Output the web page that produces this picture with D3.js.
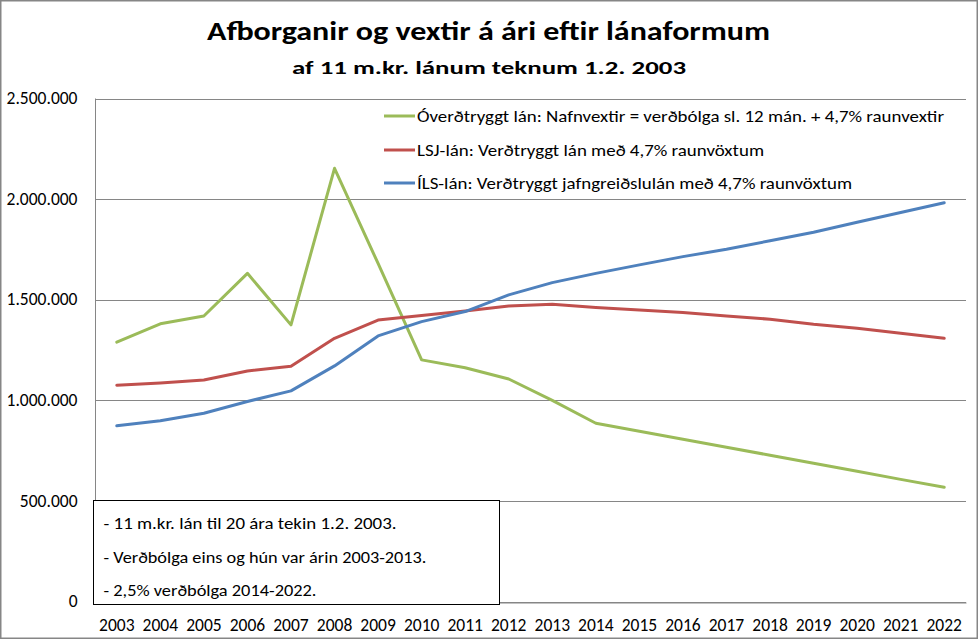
<!DOCTYPE html>
<html>
<head>
<meta charset="utf-8">
<script src="https://cdn.jsdelivr.net/npm/d3@7"></script>
<style>
  html, body { margin: 0; padding: 0; background: #fff; }
  svg { display: block; }
  text { font-family: Carlito, Lato, "Open Sans", sans-serif; fill: #000; }
</style>
</head>
<body>
<svg id="chart" width="978" height="639"></svg>
<script>
const years = ["2003","2004","2005","2006","2007","2008","2009","2010","2011","2012","2013","2014","2015","2016","2017","2018","2019","2020","2021","2022"];
const overdtryggt = [1289000,1380000,1419000,1631000,1375000,2153000,1680000,1201000,1162000,1106000,1000000,886000,846000,806000,767000,727000,687000,647000,607000,568000];
const lsj = [1075000,1086000,1101000,1146000,1169000,1308000,1399000,1421000,1444000,1469000,1477000,1461000,1449000,1436000,1419000,1403000,1378000,1358000,1333000,1308000];
const ils = [873000,898000,936000,994000,1047000,1171000,1320000,1391000,1441000,1524000,1585000,1631000,1673000,1714000,1751000,1793000,1835000,1885000,1933000,1982000];
const yTicks = [0,500000,1000000,1500000,2000000,2500000];
const seriesNames = [
  "Óverðtryggt lán: Nafnvextir = verðbólga sl. 12 mán. + 4,7% raunvextir",
  "LSJ-lán: Verðtryggt lán með 4,7% raunvöxtum",
  "ÍLS-lán: Verðtryggt jafngreiðslulán með 4,7% raunvöxtum"
];
const seriesColors = ["#9BBB59","#C0504D","#4F81BD"];
const titleText = "Afborganir og vextir á ári eftir lánaformum";
const subtitleText = "af 11 m.kr. lánum teknum 1.2. 2003";
const notes = [
  "- 11 m.kr. lán til 20 ára tekin 1.2. 2003.",
  "- Verðbólga eins og hún var árin 2003-2013.",
  "- 2,5% verðbólga 2014-2022."
];

const svg = d3.select("#chart");
const W = 978, H = 639;
const plot = {left: 95, right: 966, top: 98.5, bottom: 601.5};

// outer border
svg.append("rect").attr("x", 0.75).attr("y", 0.75).attr("width", W - 1.5).attr("height", H - 1.5)
  .attr("fill", "#fff").attr("stroke", "#868686").attr("stroke-width", 1.5);

const x = d3.scaleBand().domain(years).range([plot.left, plot.right]);
const y = d3.scaleLinear().domain([0, 2500000]).range([plot.bottom, plot.top]);

const loc = d3.formatLocale({decimal: ",", thousands: ".", grouping: [3], currency: ["", ""]});
const fmt = loc.format(",d");

// gridlines
svg.append("g").selectAll("line").data(yTicks).join("line")
  .attr("x1", plot.left).attr("x2", plot.right)
  .attr("y1", d => Math.round(y(d)) + 0.5).attr("y2", d => Math.round(y(d)) + 0.5)
  .attr("stroke", "#868686").attr("stroke-width", 1);

// y axis
const yAxis = svg.append("g").attr("transform", `translate(${plot.left + 0.5},0)`)
  .call(d3.axisLeft(y).tickValues(yTicks).tickFormat(fmt).tickSize(0).tickPadding(18));
yAxis.select(".domain").attr("stroke", "#868686").attr("d", `M0,${plot.top}V${plot.bottom + 0.5}`);
yAxis.selectAll("text").attr("font-size", 17.5).attr("font-family", "Carlito, Lato, sans-serif").attr("dy", "0.3em");

// x axis
const xAxis = svg.append("g").attr("transform", `translate(0,${Math.round(plot.bottom) + 0.5})`)
  .call(d3.axisBottom(x).tickSize(0).tickPadding(16));
xAxis.select(".domain").attr("stroke", "#868686");
xAxis.selectAll("text").attr("font-size", 17.5).attr("font-family", "Carlito, Lato, sans-serif");

// lines
const line = d3.line().x((d, i) => x(years[i]) + x.bandwidth() / 2).y(d => y(d));
const allSeries = [overdtryggt, lsj, ils];
svg.append("g").selectAll("path").data(allSeries).join("path")
  .attr("d", d => line(d))
  .attr("fill", "none")
  .attr("stroke", (d, i) => seriesColors[i])
  .attr("stroke-width", 3)
  .attr("stroke-linejoin", "round")
  .attr("stroke-linecap", "round");

// legend
const legendY = [116, 150, 183];
const legendW = [527, 347, 435];
const lg = svg.append("g");
seriesNames.forEach((name, i) => {
  lg.append("line").attr("x1", 384).attr("x2", 415).attr("y1", legendY[i]).attr("y2", legendY[i])
    .attr("stroke", seriesColors[i]).attr("stroke-width", 3);
  lg.append("text").attr("x", 417).attr("y", legendY[i]).attr("dy", "0.35em")
    .attr("font-size", 17).attr("textLength", legendW[i]).attr("lengthAdjust", "spacingAndGlyphs")
    .text(name);
});

// notes box
svg.append("rect").attr("x", 93.5).attr("y", 500.5).attr("width", 406).attr("height", 104)
  .attr("fill", "#fff").attr("stroke", "#000").attr("stroke-width", 1);
const noteY = [529, 562.5, 595.5];
const noteW = [293, 323, 213];
notes.forEach((t, i) => {
  svg.append("text").attr("x", 103.5).attr("y", noteY[i]).attr("font-size", 17)
    .attr("textLength", noteW[i]).attr("lengthAdjust", "spacingAndGlyphs").text(t);
});

// titles
svg.append("text").attr("x", 207).attr("y", 40).attr("font-size", 26).attr("font-weight", "bold")
  .attr("textLength", 563).attr("lengthAdjust", "spacingAndGlyphs").text(titleText);
svg.append("text").attr("x", 292).attr("y", 73.5).attr("font-size", 19).attr("font-weight", "bold")
  .attr("textLength", 394).attr("lengthAdjust", "spacingAndGlyphs").text(subtitleText);
</script>
</body>
</html>
